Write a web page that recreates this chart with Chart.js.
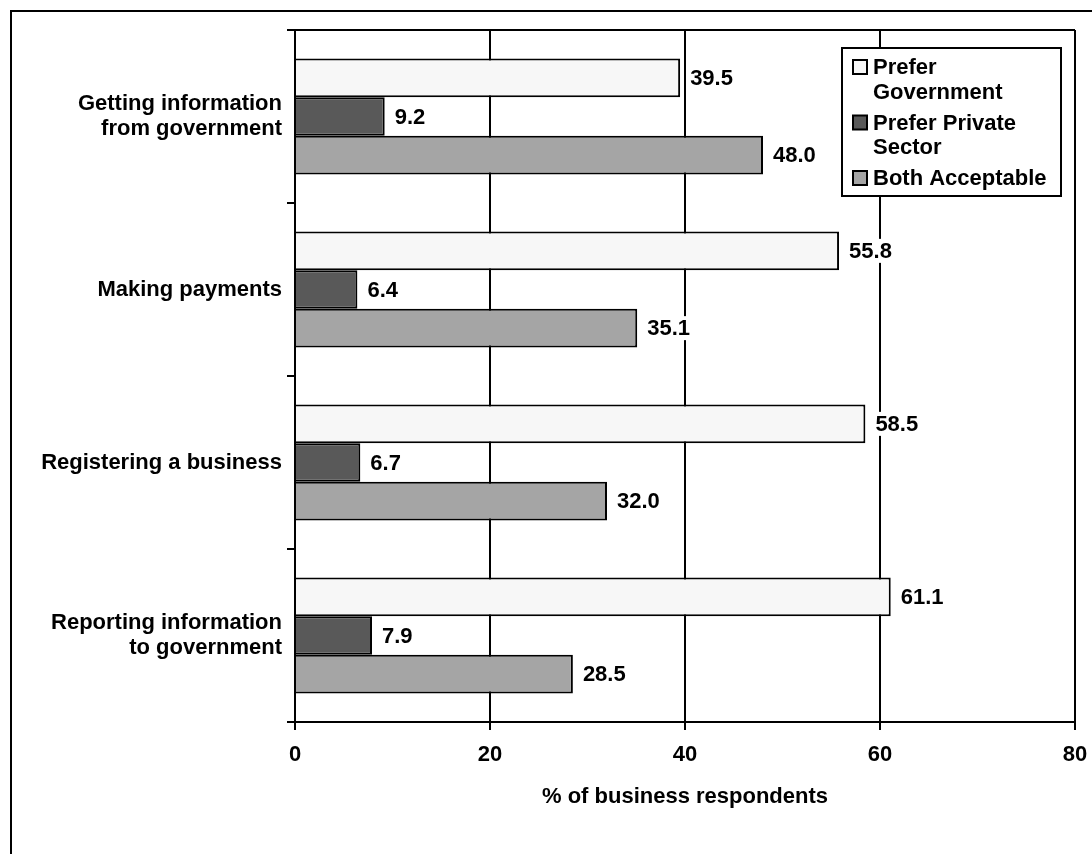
<!DOCTYPE html>
<html>
<head>
<meta charset="utf-8">
<script src="https://cdn.jsdelivr.net/npm/chart.js@4/dist/chart.umd.min.js"></script>
<style>
  html, body { margin: 0; padding: 0; background: #ffffff; }
  #wrap { width: 1092px; height: 854px; }
</style>
</head>
<body>
<div id="wrap"><canvas id="chart" width="1092" height="854"></canvas></div>
<script>
const categories = [
  ["Getting information", "from government"],
  "Making payments",
  "Registering a business",
  ["Reporting information", "to government"],
];
const seriesNames = ["Prefer Government", "Prefer Private Sector", "Both Acceptable"];
const preferGovernment = [39.5, 55.8, 58.5, 61.1];
const preferPrivate = [9.2, 6.4, 6.7, 7.9];
const bothAcceptable = [48.0, 35.1, 32.0, 28.5];
const xTicks = [0, 20, 40, 60, 80];
const axisTitle = "% of business respondents";

const fillColors = ["#f7f7f7", "#595959", "#a5a5a5"];
const FONT = "'Liberation Sans', Arial, Helvetica, sans-serif";

const datasets = [preferGovernment, preferPrivate, bothAcceptable].map((values, i) => ({
  label: seriesNames[i],
  data: values,
  backgroundColor: fillColors[i],
  borderColor: "#000000",
  borderWidth: 2,
  barPercentage: 1.0,
  categoryPercentage: 0.67,
}));

const ctx = document.getElementById("chart").getContext("2d");

new Chart(ctx, {
  type: "bar",
  data: { labels: categories, datasets },
  options: {
    indexAxis: "y",
    responsive: false,
    animation: false,
    events: [],
    layout: { padding: { left: 0, top: 30, right: 17, bottom: 0 } },
    plugins: {
      legend: { display: false },
      tooltip: { enabled: false },
    },
    scales: {
      x: {
        type: "linear",
        min: xTicks[0],
        max: xTicks[xTicks.length - 1],
        afterBuildTicks: (scale) => {
          scale.ticks = xTicks.map((v) => ({ value: v }));
        },
        afterFit: (scale) => {
          scale.height = 132;
          scale.paddingLeft = 0;
          scale.paddingRight = 0;
        },
        grid: {
          color: "#000000",
          lineWidth: 2,
          tickLength: 8,
        },
        border: { display: true, color: "#000000", width: 2 },
        ticks: {
          color: "#000000",
          padding: 12,
          maxRotation: 0,
          font: { family: FONT, size: 22, weight: "bold" },
        },
        title: {
          display: true,
          text: axisTitle,
          color: "#000000",
          padding: { top: 0, bottom: 44 },
          font: { family: FONT, size: 22, weight: "bold" },
        },
      },
      y: {
        afterFit: (scale) => {
          scale.width = 295;
          scale.paddingTop = 0;
          scale.paddingBottom = 0;
        },
        grid: {
          offset: true,
          drawOnChartArea: false,
          color: "#000000",
          lineWidth: 2,
          tickLength: 8,
        },
        border: { display: true, color: "#000000", width: 2 },
        ticks: {
          color: "#000000",
          padding: 5,
          font: { family: FONT, size: 22, weight: "bold", lineHeight: 1.1 },
        },
      },
    },
  },
  plugins: [
    {
      id: "background",
      beforeDraw: (chart) => {
        const c = chart.ctx;
        c.save();
        c.fillStyle = "#ffffff";
        c.fillRect(0, 0, chart.width, chart.height);
        c.restore();
      },
    },
    {
      id: "frameAndLabels",
      afterDraw: (chart) => {
        const c = chart.ctx;
        const area = chart.chartArea;
        c.save();

        // top edge of plot area
        c.strokeStyle = "#000000";
        c.lineWidth = 2;
        c.beginPath();
        c.moveTo(area.left, area.top);
        c.lineTo(area.right, area.top);
        c.stroke();

        // value labels
        c.font = `bold 22px ${FONT}`;
        c.textBaseline = "middle";
        c.textAlign = "left";
        chart.data.datasets.forEach((ds, di) => {
          chart.getDatasetMeta(di).data.forEach((bar, i) => {
            const text = ds.data[i].toFixed(1);
            const tx = bar.x + 10;
            const w = c.measureText(text).width;
            c.fillStyle = "#ffffff";
            c.fillRect(tx - 2, bar.y - 12, w + 4, 24);
            c.fillStyle = "#000000";
            c.fillText(text, tx, bar.y + 1);
          });
        });

        // legend box
        const lx = 842, ly = 48, lw = 219, lh = 148;
        c.fillStyle = "#ffffff";
        c.fillRect(lx, ly, lw, lh);
        c.strokeRect(lx, ly, lw, lh);
        const maxText = 185;
        const lineH = 24.5;
        let y = 67;
        chart.data.datasets.forEach((ds) => {
          const words = ds.label.split(" ");
          const lines = [];
          let cur = "";
          words.forEach((wd) => {
            const test = cur ? cur + " " + wd : wd;
            if (cur && c.measureText(test).width > maxText) {
              lines.push(cur);
              cur = wd;
            } else {
              cur = test;
            }
          });
          lines.push(cur);
          c.fillStyle = ds.backgroundColor;
          c.fillRect(853, y - 7, 14, 14);
          c.lineWidth = 2;
          c.strokeRect(853, y - 7, 14, 14);
          c.fillStyle = "#000000";
          lines.forEach((ln, k) => {
            c.fillText(ln, 873, y + 1 + k * lineH);
          });
          y += lines.length * lineH + 6.5;
        });

        // outer frame: only top and left edges fall inside the picture
        c.lineWidth = 2;
        c.beginPath();
        c.moveTo(11, chart.height);
        c.lineTo(11, 11);
        c.lineTo(chart.width, 11);
        c.stroke();
        c.restore();
      },
    },
  ],
});
</script>
</body>
</html>
